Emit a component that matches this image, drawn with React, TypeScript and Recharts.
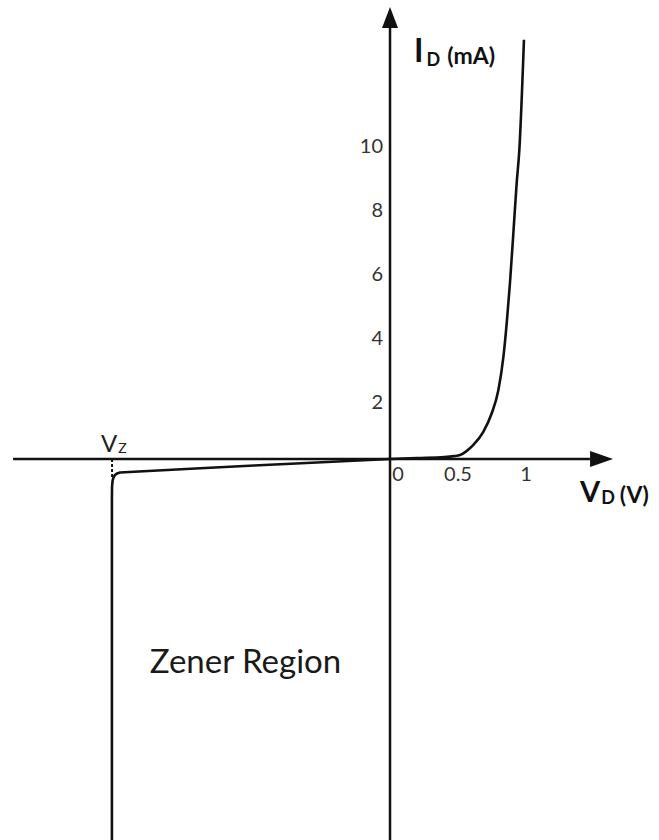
import React from "react";
import { LineChart, Line, XAxis, YAxis, ReferenceLine, ReferenceDot } from "recharts";

// Forward-bias branch: diode voltage (V) and current (mA)
const forwardV = [0, 0.2, 0.4, 0.47, 0.515, 0.56, 0.613, 0.686, 0.748, 0.797, 0.834, 0.858, 0.882, 0.907, 0.931, 0.951, 0.985];
const forwardI = [0, 0.03, 0.06, 0.09, 0.125, 0.24, 0.44, 0.85, 1.43, 2.16, 3.2, 4.24, 5.5, 7.06, 8.6, 9.66, 13.1];

// Reverse-bias branch, down through the Zener breakdown
const reverseV = [-2.045, -2.045, -2.044, -2.04, -2.033, -2.022, -2.007, -1.985, -1.5, -1.0, -0.5, 0];
const reverseI = [-12, -1.2, -0.85, -0.68, -0.57, -0.5, -0.45, -0.42, -0.31, -0.205, -0.1, 0];

// Axis tick labels
const xTicks = [0, 0.5, 1];
const xTickLabels = ["0", "0.5", "1"];
const yTicks = [2, 4, 6, 8, 10];
const yTickLabels = ["2", "4", "6", "8", "10"];

// Breakdown voltage marker
const zenerV = -2.044;
const zenerKneeI = -0.62;

// Axis extents
const xAxisStart = -2.772;
const xAxisTip = 1.64;
const xAxisHeadBase = 1.47;
const yAxisBottom = -12.5;
const yAxisTip = 14.125;
const yAxisHeadBase = 13.47;

const forwardData = forwardV.map((v, k) => ({ v, i: forwardI[k] }));
const reverseData = reverseV.map((v, k) => ({ v, i: reverseI[k] }));

const INK = "#111";
const FONT = "Lato, 'Open Sans', sans-serif";

const UpArrow = (p: any) => (
  <polygon points={`${p.cx},${p.cy} ${p.cx - 8},${p.cy + 21} ${p.cx + 8},${p.cy + 21}`} fill={INK} />
);
const RightArrow = (p: any) => (
  <polygon points={`${p.cx},${p.cy} ${p.cx - 23},${p.cy - 8} ${p.cx - 23},${p.cy + 8}`} fill={INK} />
);

export default function App() {
  return (
    <div style={{ position: "absolute", left: 0, top: 0, background: "#fff" }}>
      <LineChart width={659} height={840} margin={{ top: 0, right: 0, bottom: 0, left: 0 }}>
        <XAxis type="number" dataKey="v" domain={[-2.868, 1.978]} hide allowDataOverflow />
        <YAxis type="number" dataKey="i" domain={[-11.906, 14.344]} hide allowDataOverflow />

        {/* axes */}
        <ReferenceLine
          segment={[{ x: xAxisStart, y: 0 }, { x: xAxisHeadBase, y: 0 }]}
          stroke={INK}
          strokeWidth={2.5}
          ifOverflow="visible"
        />
        <ReferenceLine
          segment={[{ x: 0, y: yAxisBottom }, { x: 0, y: yAxisHeadBase }]}
          stroke={INK}
          strokeWidth={2.5}
          ifOverflow="visible"
        />
        <ReferenceDot x={0} y={yAxisTip} r={0} shape={UpArrow} ifOverflow="visible" />
        <ReferenceDot x={xAxisTip} y={0} r={0} shape={RightArrow} ifOverflow="visible" />

        {/* Vz dashed marker */}
        <ReferenceLine
          segment={[{ x: zenerV, y: 0 }, { x: zenerV, y: zenerKneeI }]}
          stroke={INK}
          strokeWidth={2}
          strokeDasharray="3 2"
          ifOverflow="visible"
        />

        <Line data={reverseData} dataKey="i" type="linear" stroke={INK} strokeWidth={2.6} dot={false} activeDot={false} isAnimationActive={false} />
        <Line data={forwardData} dataKey="i" type="monotone" stroke={INK} strokeWidth={2.6} dot={false} activeDot={false} isAnimationActive={false} />

        {/* y tick labels */}
        {yTicks.map((t, k) => (
          <ReferenceDot
            key={`y${t}`}
            x={0}
            y={t}
            r={0}
            shape={(p: any) => (
              <text x={p.cx - 7} y={p.cy + 6} textAnchor="end" dominantBaseline="central" fontFamily={FONT} fontSize={20} fill="#333">
                {yTickLabels[k]}
              </text>
            )}
          />
        ))}

        {/* x tick labels */}
        {xTicks.map((t, k) => (
          <ReferenceDot
            key={`x${t}`}
            x={t}
            y={0}
            r={0}
            shape={(p: any) => (
              <text x={p.cx + (t === 0 ? 8 : 0)} y={p.cy + 14} textAnchor="middle" dominantBaseline="central" fontFamily={FONT} fontSize={20} fill="#333">
                {xTickLabels[k]}
              </text>
            )}
          />
        ))}

        {/* I_D (mA) */}
        <ReferenceDot
          x={0}
          y={12.4}
          r={0}
          shape={(p: any) => (
            <text x={p.cx + 24} y={p.cy} fontFamily={FONT} fill={INK} fontWeight={700}>
              <tspan fontSize={32}>I</tspan>
              <tspan fontSize={18} dx={3} dy={4}>D</tspan>
              <tspan fontSize={23} dx={7} dy={-2}>(mA)</tspan>
            </text>
          )}
        />

        {/* V_D (V) */}
        <ReferenceDot
          x={0}
          y={0}
          r={0}
          shape={(p: any) => (
            <text x={p.cx + 190} y={p.cy + 43} fontFamily={FONT} fill={INK} fontWeight={700}>
              <tspan fontSize={29}>V</tspan>
              <tspan fontSize={18} dx={1} dy={2}>D</tspan>
              <tspan fontSize={23} dx={5} dy={-1}>(V)</tspan>
            </text>
          )}
        />

        {/* V_Z */}
        <ReferenceDot
          x={zenerV}
          y={0}
          r={0}
          shape={(p: any) => (
            <text x={p.cx - 11} y={p.cy - 7} fontFamily={FONT} fill="#222">
              <tspan fontSize={24}>V</tspan>
              <tspan fontSize={14} dx={1} dy={1}>Z</tspan>
            </text>
          )}
        />

        {/* region caption */}
        <ReferenceDot
          x={-1.0625}
          y={-6.69}
          r={0}
          shape={(p: any) => (
            <text x={p.cx} y={p.cy} textAnchor="middle" fontFamily={FONT} fontSize={33} fill="#1a1a1a">
              Zener Region
            </text>
          )}
        />
      </LineChart>
    </div>
  );
}
